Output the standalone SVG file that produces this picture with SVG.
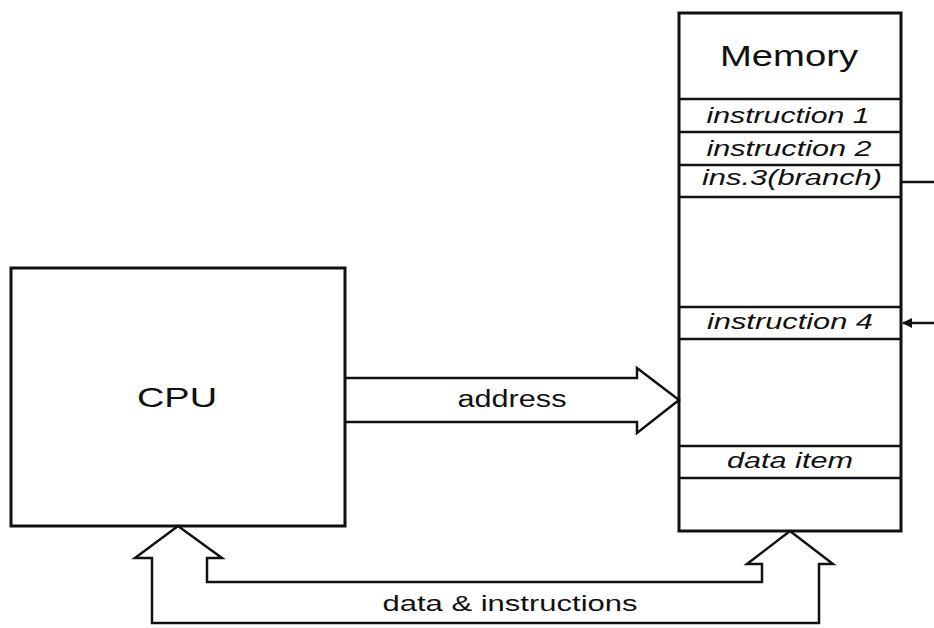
<svg xmlns="http://www.w3.org/2000/svg" width="934" height="628" viewBox="0 0 934 628">
<style>
.box{fill:#fff;stroke:#111;stroke-width:3}
.ln{fill:none;stroke:#111;stroke-width:2.5}
.t{font-family:"Liberation Sans",Arial,sans-serif;fill:#111;text-anchor:middle}
.it{font-family:"Liberation Sans",Arial,sans-serif;font-style:italic;fill:#111;text-anchor:middle;font-size:22px}
</style>
<defs>
<marker id="ah" markerWidth="10" markerHeight="10" refX="9" refY="5" orient="auto" markerUnits="userSpaceOnUse">
<path d="M0,0 L10,5 L0,10 Z" fill="#111"/>
</marker>
</defs>
<rect width="934" height="628" fill="#fff"/>
<g id="cpu">
<rect class="box" x="11" y="268" width="334" height="258"/>
<text class="t" x="177" y="407" font-size="28" textLength="80" lengthAdjust="spacingAndGlyphs">CPU</text>
</g>
<g id="memory">
<rect class="box" x="679" y="13" width="222" height="518"/>
<text class="t" x="789" y="66" font-size="30" textLength="138" lengthAdjust="spacingAndGlyphs">Memory</text>
<line class="ln" x1="679" y1="99" x2="901" y2="99"/>
<line class="ln" x1="679" y1="132" x2="901" y2="132"/>
<line class="ln" x1="679" y1="165" x2="901" y2="165"/>
<line class="ln" x1="679" y1="197" x2="901" y2="197"/>
<line class="ln" x1="679" y1="307" x2="901" y2="307"/>
<line class="ln" x1="679" y1="339" x2="901" y2="339"/>
<line class="ln" x1="679" y1="446" x2="901" y2="446"/>
<line class="ln" x1="679" y1="478" x2="901" y2="478"/>
<text class="it" x="788" y="123" textLength="163" lengthAdjust="spacingAndGlyphs">instruction 1</text>
<text class="it" x="789" y="156" textLength="165" lengthAdjust="spacingAndGlyphs">instruction 2</text>
<text class="it" x="792" y="185" textLength="180" lengthAdjust="spacingAndGlyphs">ins.3(branch)</text>
<text class="it" x="790" y="329" textLength="166" lengthAdjust="spacingAndGlyphs">instruction 4</text>
<text class="it" x="790" y="468" textLength="126" lengthAdjust="spacingAndGlyphs">data item</text>
</g>
<g id="connectors">
<line class="ln" x1="901" y1="182" x2="934" y2="182"/>
<line class="ln" x1="934" y1="323" x2="903" y2="323" marker-end="url(#ah)"/>
<path class="ln" d="M345,378 L637,378 L637,368 L679,400 L637,433 L637,422 L345,422"/>
<path class="ln" d="M207,582 L762,582 L762,564 L747,564 L790,531 L833,564 L819,564 L819,623 L152,623 L152,558 L135,558 L178,526 L222,558 L207,558 Z"/>
<text class="t" x="512" y="407" font-size="23" textLength="109" lengthAdjust="spacingAndGlyphs">address</text>
<text class="t" x="510" y="611" font-size="22" textLength="255" lengthAdjust="spacingAndGlyphs">data &amp; instructions</text>
</g>
</svg>
